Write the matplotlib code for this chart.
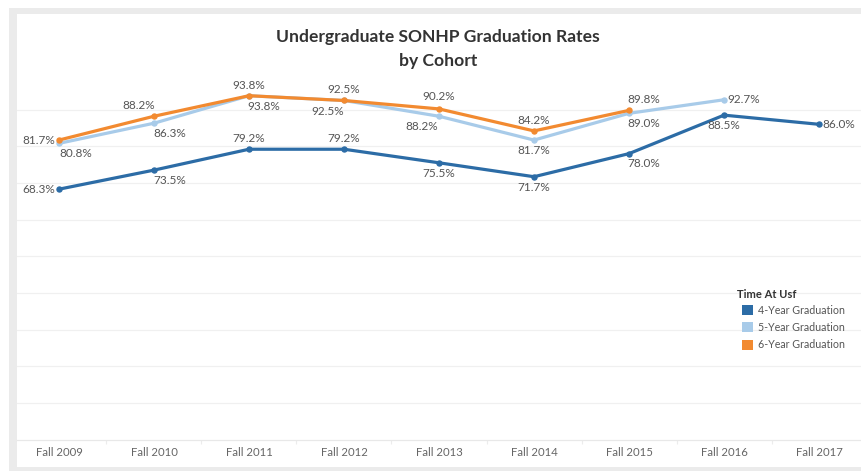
import matplotlib
matplotlib.use("Agg")
import matplotlib.pyplot as plt
from matplotlib.patches import Rectangle, Patch

plt.rcParams['font.family'] = ['Lato', 'DejaVu Sans']

cohorts = ["Fall 2009", "Fall 2010", "Fall 2011", "Fall 2012", "Fall 2013",
           "Fall 2014", "Fall 2015", "Fall 2016", "Fall 2017"]
grad4 = [68.3, 73.5, 79.2, 79.2, 75.5, 71.7, 78.0, 88.5, 86.0]
grad5 = [80.8, 86.3, 93.8, 92.5, 88.2, 81.7, 89.0, 92.7]
grad6 = [81.7, 88.2, 93.8, 92.5, 90.2, 84.2, 89.8]
series_names = ["4-Year Graduation", "5-Year Graduation", "6-Year Graduation"]
title = "Undergraduate SONHP Graduation Rates\nby Cohort"
legend_title = "Time At Usf"

colors = ["#2c6ca6", "#a8cbe9", "#f28a30"]

# label offsets in pixels (dx, dy, ha)
off4 = [(-4, 0, 'right'), (16, -10, 'center'), (0, 10.5, 'center'), (0, 10.5, 'center'),
        (0, -11, 'center'), (0, -11, 'center'), (15, -10, 'center'), (0, -10, 'center'),
        (3, 0, 'left')]
off5 = [(0, -10.5, 'left'), (16, -10.5, 'center'), (15, -11, 'center'), (-16, -11, 'center'),
        (-17, -10, 'center'), (0, -10, 'center'), (15, -10, 'center'), (3, 0, 'left')]
off6 = [(-4, 0, 'right'), (-15, 11, 'center'), (0, 10, 'center'), (0, 11, 'center'),
        (0, 12, 'center'), (0, 10, 'center'), (15, 11, 'center')]

W, H = 862, 471
fig = plt.figure(figsize=(W / 100, H / 100), dpi=100)
fig.patch.set_facecolor("white")

# frame (pixel coords from top-left)
def px_rect(x0, y0, x1, y1, color, z):
    fig.patches.append(Rectangle((x0 / W, 1 - y1 / H), (x1 - x0) / W, (y1 - y0) / H,
                                 transform=fig.transFigure, facecolor=color,
                                 edgecolor='none', zorder=z))

px_rect(9, 8, 862, 471, "#ebebeb", -10)
px_rect(17, 14, 862, 467, "white", -9)

ax_left, ax_right = 17, 861
ax_top, ax_bot = 73, 439.5
ax = fig.add_axes([ax_left / W, 1 - ax_bot / H, (ax_right - ax_left) / W, (ax_bot - ax_top) / H])
ax.set_facecolor("none")
ax.set_xlim(-0.442, len(cohorts) - 1 + 0.442)
ax.set_ylim(0, 100)

for v in range(10, 100, 10):
    ax.axhline(v, color="#f0f0f0", lw=0.9, zorder=0)

for s in ["top", "right", "left"]:
    ax.spines[s].set_visible(False)
ax.spines["bottom"].set_color("#e8e8e8")
ax.spines["bottom"].set_linewidth(0.9)
ax.set_yticks([])

x = list(range(len(cohorts)))
ax.set_xticks(x)
ax.set_xticklabels(cohorts, fontsize=8.2, color="#666666")
ax.tick_params(axis='x', length=0, pad=5.5)
ax.set_xticks([i + 0.5 for i in range(len(cohorts) - 1)], minor=True)
ax.tick_params(axis='x', which='minor', length=3, color="#ececec", width=0.8)

data = [grad4, grad5, grad6]
offs = [off4, off5, off6]
zorders = [3, 4, 5]
for vals, col, offl, z in zip(data, colors, offs, zorders):
    xs = x[:len(vals)]
    ax.plot(xs, vals, color=col, lw=2.3, marker='o', ms=3.6, zorder=z,
            solid_capstyle='round')
    for xi, v, (dx, dy, ha) in zip(xs, vals, offl):
        ax.annotate(f"{v:.1f}%", (xi, v), xytext=(dx, dy), textcoords='offset pixels',
                    ha=ha, va='center', fontsize=8.5, color="#555555", zorder=10)

fig.text(438 / W, 1 - 49 / H, title, ha='center', va='center', fontsize=12.6,
         fontweight='bold', color="#333333", linespacing=1.55)

handles = [Patch(facecolor=c, edgecolor='none') for c in colors]
fig.text(737 / W, 1 - 294 / H, legend_title, ha='left', va='center', fontsize=8,
         fontweight='bold', color="#333333")
leg = ax.legend(handles, series_names, loc='upper left',
                bbox_to_anchor=(742 / W, 1 - 304.5 / H), bbox_transform=fig.transFigure,
                frameon=False, handlelength=1.05, handleheight=1.05, handletextpad=0.45,
                labelspacing=0.6, fontsize=7.7, borderpad=0, borderaxespad=0)
for t in leg.get_texts():
    t.set_color("#555555")

fig.savefig("out.png", dpi=100)
